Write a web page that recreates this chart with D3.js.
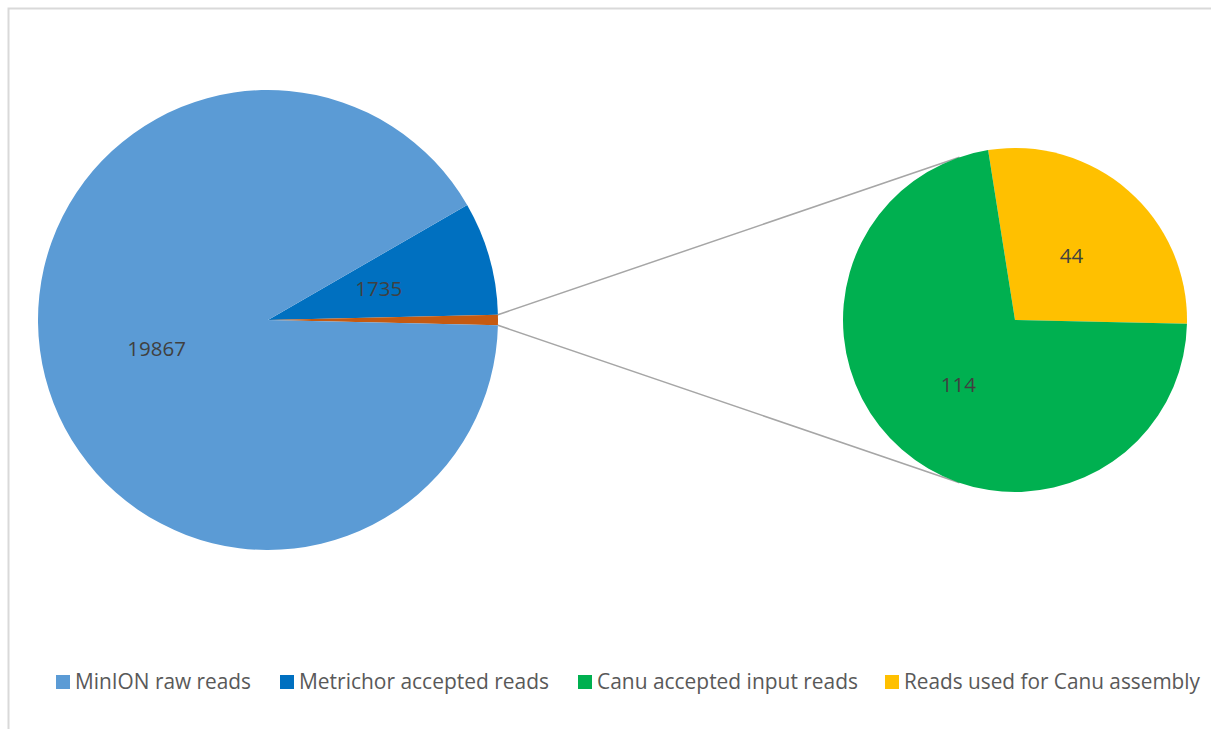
<!DOCTYPE html>
<html>
<head>
<meta charset="utf-8">
<script src="https://cdn.jsdelivr.net/npm/d3@7"></script>
<style>
  html, body { margin: 0; padding: 0; background: #ffffff; }
  svg { display: block; }
</style>
</head>
<body>
<svg id="chart" width="1211" height="729"></svg>
<script>
// Read counts: the main pie splits raw reads, Metrichor-accepted reads and the
// remainder that is broken out in the secondary pie (Canu inputs / used reads).
const mainCategories = ["MinION raw reads", "Metrichor accepted reads", "Other"];
const mainValues = [19867, 1735, 158];
const subCategories = ["Reads used for Canu assembly", "Canu accepted input reads"];
const subValues = [44, 114];
const legendLabels = ["MinION raw reads", "Metrichor accepted reads", "Canu accepted input reads", "Reads used for Canu assembly"];
const legendColors = ["#5B9BD5", "#0070C0", "#00B050", "#FFC000"];

const mainColors = { "MinION raw reads": "#5B9BD5", "Metrichor accepted reads": "#0070C0", "Other": "#C55A11" };
const subColors = { "Reads used for Canu assembly": "#FFC000", "Canu accepted input reads": "#00B050" };

const svg = d3.select("#chart");
const deg = Math.PI / 180;
const fontFamily = "'Open Sans', 'Liberation Sans', sans-serif";

// chart area frame (only top and left edges fall inside the canvas)
svg.append("rect")
  .attr("x", 8.5).attr("y", 8.5)
  .attr("width", 1400).attr("height", 900)
  .attr("fill", "none").attr("stroke", "#d9d9d9").attr("stroke-width", 2);

// ---- main pie ----
const mainCx = 268, mainCy = 320, mainR = 230;
const mainTotal = d3.sum(mainValues);
const otherAngle = mainValues[2] / mainTotal * 2 * Math.PI;
const metAngle = mainValues[1] / mainTotal * 2 * Math.PI;
// "Other" slice centred at 3 o'clock; order clockwise: Metrichor, Other, raw
const mainStart = Math.PI / 2 - otherAngle / 2 - metAngle;
const mainOrder = [1, 2, 0];
const mainPie = d3.pie().sort(null).value(i => mainValues[i])
  .startAngle(mainStart).endAngle(mainStart + 2 * Math.PI);
const mainArcs = mainPie(mainOrder);
const mainArc = d3.arc().innerRadius(0).outerRadius(mainR);
const mainLabelArc = d3.arc().innerRadius(mainR * 0.5).outerRadius(mainR * 0.5);

const gMain = svg.append("g").attr("transform", `translate(${mainCx},${mainCy})`);
gMain.selectAll("path").data(mainArcs).join("path")
  .attr("d", mainArc)
  .attr("fill", d => mainColors[mainCategories[d.data]]);

gMain.selectAll("text").data(mainArcs.filter(d => d.data !== 2)).join("text")
  .attr("transform", d => `translate(${mainLabelArc.centroid(d)})`)
  .attr("text-anchor", "middle").attr("dy", "0.36em")
  .attr("font-family", fontFamily)
  .attr("font-size", 20.5).attr("fill", "#404040")
  .text(d => mainValues[d.data]);

// ---- secondary pie ----
const subCx = 1015, subCy = 320, subR = 172;
const subStart = -9 * deg;
const subPie = d3.pie().sort(null).value(i => subValues[i])
  .startAngle(subStart).endAngle(subStart + 2 * Math.PI);
const subArcs = subPie([0, 1]);
const subArc = d3.arc().innerRadius(0).outerRadius(subR);
const subLabelArc = d3.arc().innerRadius(subR * 0.5).outerRadius(subR * 0.5);

// connector lines: from the edges of the "Other" slice, tangent to the secondary pie
const otherArc = mainArcs.find(d => d.data === 2);
function mainPoint(a) { return [mainCx + mainR * Math.sin(a), mainCy - mainR * Math.cos(a)]; }
function tangentPoint(p, sign) {
  const dx = p[0] - subCx, dy = p[1] - subCy;
  const dist = Math.hypot(dx, dy);
  const base = Math.atan2(dy, dx);
  const t = Math.acos(subR / dist);
  const a = base + sign * t;
  return [subCx + subR * Math.cos(a), subCy + subR * Math.sin(a)];
}
const pTop = mainPoint(otherArc.startAngle), pBot = mainPoint(otherArc.endAngle);
const connectors = [[pTop, tangentPoint(pTop, 1)], [pBot, tangentPoint(pBot, -1)]];
svg.append("g").selectAll("line").data(connectors).join("line")
  .attr("x1", d => d[0][0]).attr("y1", d => d[0][1])
  .attr("x2", d => d[1][0]).attr("y2", d => d[1][1])
  .attr("stroke", "#a6a6a6").attr("stroke-width", 1.5);

const gSub = svg.append("g").attr("transform", `translate(${subCx},${subCy})`);
gSub.selectAll("path").data(subArcs).join("path")
  .attr("d", subArc)
  .attr("fill", d => subColors[subCategories[d.data]]);
gSub.selectAll("text").data(subArcs).join("text")
  .attr("transform", d => `translate(${subLabelArc.centroid(d)})`)
  .attr("text-anchor", "middle").attr("dy", "0.36em")
  .attr("font-family", fontFamily)
  .attr("font-size", 20.5).attr("fill", "#404040")
  .text(d => subValues[d.data]);

// ---- legend ----
const legendX = [56, 280, 578, 885];
const legendW = [176, 250, 261, 296];
const gLeg = svg.append("g");
legendLabels.forEach((lab, i) => {
  gLeg.append("rect")
    .attr("x", legendX[i]).attr("y", 675)
    .attr("width", 14).attr("height", 14)
    .attr("fill", legendColors[i]);
  gLeg.append("text")
    .attr("x", legendX[i] + 19).attr("y", 688.5)
    .attr("font-family", fontFamily)
    .attr("font-size", 21).attr("fill", "#595959")
    .attr("textLength", legendW[i]).attr("lengthAdjust", "spacingAndGlyphs")
    .text(lab);
});
</script>
</body>
</html>
